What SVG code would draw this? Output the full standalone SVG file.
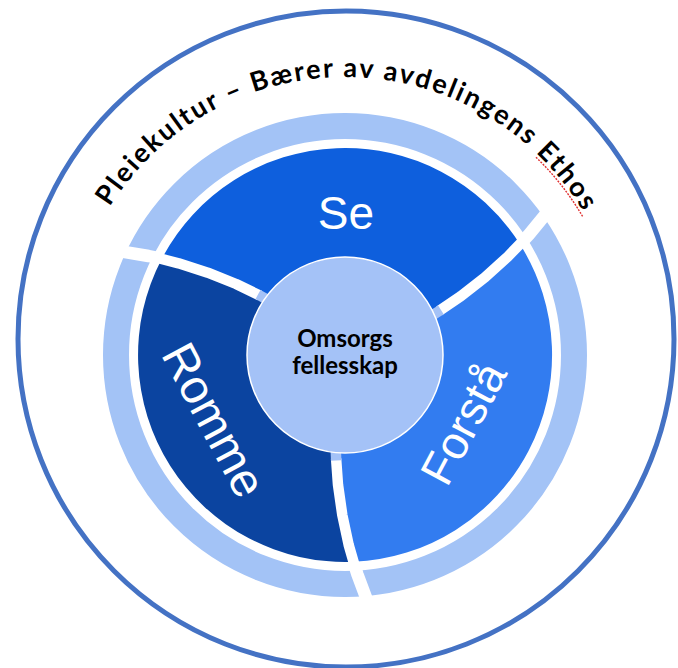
<svg xmlns="http://www.w3.org/2000/svg" width="678" height="668" viewBox="0 0 678 668">
<defs>
<style>
.lbl{font-family:"Liberation Sans",Arial,sans-serif;font-size:46px;fill:#ffffff;text-anchor:middle}
.ctr{font-family:Lato,"Liberation Sans",sans-serif;font-weight:bold;font-size:24px;fill:#000000;text-anchor:middle}
.ttl{font-family:Lato,"Liberation Sans",sans-serif;font-weight:bold;font-size:27px;fill:#000000}
.gap{fill:none;stroke:#ffffff;stroke-width:10.5;stroke-linejoin:round}
.rgap{fill:none;stroke:#ffffff;stroke-width:12.5;stroke-linejoin:round}
.tab{fill:none;stroke:#A4C2F7;stroke-width:10.5}
</style>
<path id="titleArc" d="M 67,355 A 278 278 0 0 1 623,355"/>
</defs>
<rect width="678" height="668" fill="#ffffff"/>
<g id="outer-ring">
<circle cx="346" cy="339" r="328" fill="none" stroke="#4472C4" stroke-width="5"/>
</g>
<g id="title">
<text class="ttl"><textPath href="#titleArc" startOffset="50.3%" text-anchor="middle" textLength="566" lengthAdjust="spacing">Pleiekultur – Bærer av avdelingens Ethos</textPath></text>
<path d="M 536,157.2 A 275 275 0 0 1 583.2,217.5" fill="none" stroke="#E03030" stroke-width="1.4" stroke-dasharray="2 1.2"/>
</g>
<g id="light-ring">
<circle cx="345" cy="355" r="229" fill="none" stroke="#A3C3F6" stroke-width="26"/>
</g>
<g id="node-se">
<path d="M 345,355 L 263.3,297.4 L 236.1,284.0 L 207.8,272.65 L 178.6,263.3 L 161.7,258.9 A 207 207 0 0 1 520.0,244.3 L 507.6,256.8 L 484.9,277.4 L 460.9,296.2 L 435.8,313.05 Z" fill="#0E5FDD"/>
<text class="lbl" x="346" y="229">Se</text>
</g>
<g id="node-forsta">
<path d="M 345,355 L 435.8,313.05 L 460.9,296.2 L 484.9,277.4 L 507.6,256.8 L 520.0,244.3 A 207 207 0 0 1 353.4,561.8 L 348.7,545.0 L 342.3,515.0 L 338.0,484.8 L 335.9,454.6 Z" fill="#327CF0"/>
<text class="lbl" transform="translate(477.5,430.8) rotate(-62)" x="0" y="0">Forstå</text>
</g>
<g id="node-romme">
<path d="M 345,355 L 335.9,454.6 L 338.0,484.8 L 342.3,515.0 L 348.7,545.0 L 353.4,561.8 A 207 207 0 0 1 161.7,258.9 L 178.6,263.3 L 207.8,272.65 L 236.1,284.0 L 263.3,297.4 Z" fill="#0B44A0"/>
<text class="lbl" style="font-size:47.5px" transform="translate(199.6,427.7) rotate(62)" x="0" y="0">Romme</text>
</g>
<g id="connectors">
<path class="gap" d="M 336.1,458.6 L 338.0,484.8 L 342.3,515.0 L 348.7,545.0 L 354.4,564.8"/>
<path class="gap" d="M 259.7,295.5 L 236.1,284.0 L 207.8,272.65 L 178.6,263.3 L 158.6,258.2"/>
<path class="gap" d="M 439.2,310.9 L 460.9,296.2 L 484.9,277.4 L 507.6,256.8 L 522.0,242.0"/>
<path class="rgap" d="M 354.4,564.8 L 357.5,574.6 L 368.4,603.9"/>
<path class="rgap" d="M 158.6,258.2 L 148.5,256.0 L 117.7,250.8"/>
<path class="rgap" d="M 522.0,242.0 L 529.0,234.4 L 548.9,210.35"/>
<path class="tab" d="M 335.8,450.6 L 336.2,460.5"/>
<path class="tab" d="M 266.8,299.3 L 258.0,294.5"/>
<path class="tab" d="M 432.4,315.2 L 440.9,309.9"/>
</g>
<g id="node-center">
<circle cx="345" cy="355" r="98" fill="#A4C2F7" stroke="#ffffff" stroke-width="1.5"/>
<text class="ctr" x="345" y="346.7">Omsorgs</text>
<text class="ctr" x="345" y="374">fellesskap</text>
</g>
</svg>
